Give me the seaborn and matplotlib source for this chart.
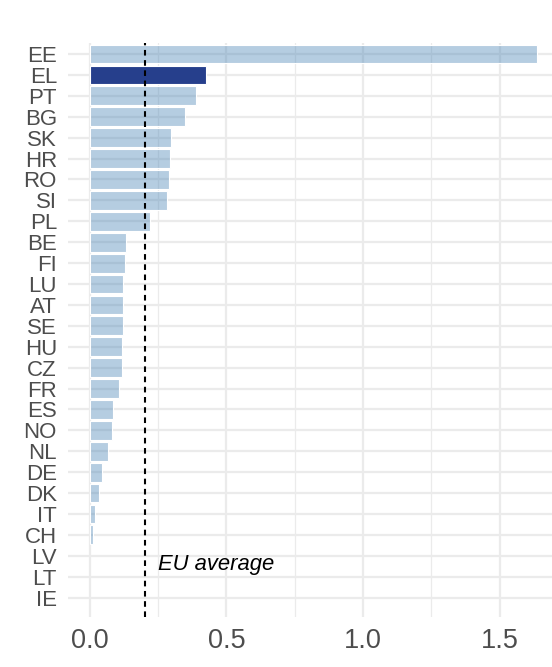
import pandas as pd
import numpy as np
import matplotlib
matplotlib.use("Agg")
import matplotlib.pyplot as plt
import seaborn as sns

# values
countries = ["EE", "EL", "PT", "BG", "SK", "HR", "RO", "SI", "PL", "BE", "FI", "LU", "AT",
             "SE", "HU", "CZ", "FR", "ES", "NO", "NL", "DE", "DK", "IT", "CH", "LV", "LT", "IE"]
values = [1.637, 0.424, 0.387, 0.348, 0.297, 0.294, 0.289, 0.282, 0.221, 0.131, 0.127, 0.123,
          0.122, 0.120, 0.118, 0.116, 0.105, 0.084, 0.081, 0.066, 0.045, 0.033, 0.018, 0.011,
          0.0, 0.0, 0.0]
highlight = "EL"
eu_average = 0.203
xticks = [0.0, 0.5, 1.0, 1.5]

df = pd.DataFrame({"country": countries, "value": values})
df["group"] = np.where(df["country"] == highlight, "hl", "other")

sns.set_theme(style="white")
plt.rcParams["font.family"] = ["Liberation Sans", "DejaVu Sans"]

fig = plt.figure(figsize=(5.52, 6.67), dpi=100)
ax = fig.add_axes([68 / 552, 50 / 667, 484 / 552, 574 / 667])

n = len(countries)
# grid lines first (ggplot-like)
for i in range(n):
    ax.axhline(i, color="#ebebeb", lw=1.6, zorder=0)
for x in xticks:
    ax.axvline(x, color="#ebebeb", lw=1.6, zorder=0)
for x in [0.25, 0.75, 1.25]:
    ax.axvline(x, color="#ebebeb", lw=0.9, zorder=0)

sns.barplot(data=df, x="value", y="country", hue="group", order=countries,
            palette={"hl": "#263f8c", "other": "#4682b4"}, dodge=False, saturation=1,
            width=0.9, edgecolor="white", linewidth=0.8, legend=False, ax=ax, zorder=2)
# light bars are semi-transparent so the grid shows through
for p in ax.patches:
    fc = p.get_facecolor()
    if p.get_width() == 0:
        p.set_visible(False)
    elif abs(fc[0] - 0x46 / 255) < 0.02:
        p.set_facecolor((fc[0], fc[1], fc[2], 0.4))

ax.axvline(eu_average, color="black", lw=1.5, ls=(0, (2.7, 2.2)), zorder=3)
ax.text(eu_average + 0.045, n - 2.6, "EU average", fontsize=15.8, style="italic",
        va="center", ha="left", color="black")

ax.set_xlim(-0.08, 1.692)
ax.set_ylim(n - 1 + 0.93, -0.53)
ax.set_xticks(xticks)
ax.set_xticklabels(["0.0", "0.5", "1.0", "1.5"], fontsize=19.5, color="#4d4d4d")
ax.set_yticks(range(n))
ax.set_yticklabels(countries, fontsize=16, color="#4d4d4d")
ax.tick_params(axis="y", length=0, pad=8)
ax.tick_params(axis="x", length=0, pad=8)
ax.set_xlabel("")
ax.set_ylabel("")
for s in ax.spines.values():
    s.set_visible(False)

fig.savefig("out.png", dpi=100)
